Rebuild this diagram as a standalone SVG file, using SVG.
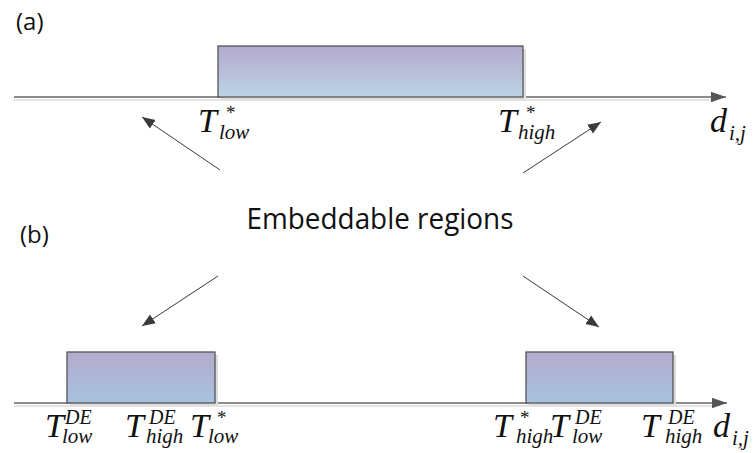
<svg xmlns="http://www.w3.org/2000/svg" width="755" height="453" viewBox="0 0 755 453">
<defs>
<linearGradient id="g1" x1="0" y1="0" x2="0" y2="1">
<stop offset="0" stop-color="#B4A9CC"/>
<stop offset="1" stop-color="#BCD4E6"/>
</linearGradient>
<linearGradient id="g2" x1="0" y1="0" x2="0" y2="1">
<stop offset="0" stop-color="#B4AACC"/>
<stop offset="1" stop-color="#A6C3E0"/>
</linearGradient>
<marker id="ah" viewBox="0 0 10 10" refX="10" refY="5" markerWidth="13" markerHeight="13" markerUnits="userSpaceOnUse" orient="auto">
<path d="M0,1 L10,5 L0,9 Z" fill="#3a3a3a"/>
</marker>
<marker id="axh" viewBox="0 0 10 10" refX="10" refY="5" markerWidth="15" markerHeight="15" markerUnits="userSpaceOnUse" orient="auto">
<path d="M0,1.5 L10,5 L0,8.5 Z" fill="#555"/>
</marker>
</defs>
<style>
.lbl{font-family:"Open Sans","Noto Sans",sans-serif;fill:#111}
.m{font-family:"Liberation Serif","Times New Roman",serif;font-style:italic;fill:#111}
.big{font-size:34px}
.sub{font-size:21px}
.sup{font-size:20px}
.ast{font-size:19px;font-style:normal}
.rect{stroke:#555;stroke-width:1.3}
.shadow{fill:#ddd}
.axis{stroke:#666;stroke-width:1.5;fill:none}
.axs{stroke:#e4e4e4;stroke-width:2;fill:none}
.arr{stroke:#3a3a3a;stroke-width:1;fill:none}
</style>

<g id="labels">
<text class="lbl" x="16" y="30" font-size="24">(a)</text>
<text class="lbl" x="20" y="243" font-size="24">(b)</text>
<text class="lbl" x="380" y="229" font-size="29" text-anchor="middle" textLength="267" lengthAdjust="spacingAndGlyphs">Embeddable regions</text>
</g>

<g id="axis-a">
<line class="axs" x1="14" y1="100" x2="714" y2="100"/>
<line class="axis" x1="14" y1="97" x2="726" y2="97" marker-end="url(#axh)"/>
</g>
<g id="region-a">
<rect class="shadow" x="221" y="49" width="305" height="51"/>
<rect class="rect" x="218" y="46" width="305" height="51" fill="url(#g1)"/>
</g>

<g id="axis-b">
<line class="axs" x1="14" y1="406" x2="714" y2="406"/>
<line class="axis" x1="14" y1="403" x2="727" y2="403" marker-end="url(#axh)"/>
</g>
<g id="region-b1">
<rect class="shadow" x="70" y="355" width="148" height="51"/>
<rect class="rect" x="67" y="352" width="148" height="51" fill="url(#g2)"/>
</g>
<g id="region-b2">
<rect class="shadow" x="529" y="355" width="147" height="51"/>
<rect class="rect" x="526" y="352" width="147" height="51" fill="url(#g2)"/>
</g>

<g id="connectors">
<line class="arr" x1="220" y1="170" x2="142" y2="117" marker-end="url(#ah)"/>
<line class="arr" x1="523" y1="173" x2="601" y2="122" marker-end="url(#ah)"/>
<line class="arr" x1="218" y1="276" x2="142" y2="326" marker-end="url(#ah)"/>
<line class="arr" x1="523" y1="276" x2="599" y2="327" marker-end="url(#ah)"/>
</g>

<g id="math-a">
<text class="m big" x="198" y="132">T</text>
<text class="m ast" x="226" y="119">*</text>
<text class="m sub" x="219" y="139">low</text>

<text class="m big" x="498" y="132">T</text>
<text class="m ast" x="526" y="119">*</text>
<text class="m sub" x="518" y="139">high</text>

<text class="m big" x="710" y="132">d</text>
<text class="m sub" x="729" y="140">i,j</text>
</g>

<g id="math-b">
<text class="m big" x="45" y="437">T</text>
<text class="m sup" x="65" y="424">DE</text>
<text class="m sub" x="62" y="443">low</text>

<text class="m big" x="125" y="437">T</text>
<text class="m sup" x="149" y="424">DE</text>
<text class="m sub" x="146" y="443">high</text>

<text class="m big" x="190" y="437">T</text>
<text class="m ast" x="217" y="424">*</text>
<text class="m sub" x="208" y="443">low</text>

<text class="m big" x="493" y="437">T</text>
<text class="m ast" x="520" y="424">*</text>
<text class="m sub" x="516" y="443">high</text>

<text class="m big" x="550" y="437">T</text>
<text class="m sup" x="575" y="424">DE</text>
<text class="m sub" x="572" y="443">low</text>

<text class="m big" x="641" y="437">T</text>
<text class="m sup" x="668" y="424">DE</text>
<text class="m sub" x="665" y="443">high</text>

<text class="m big" x="713" y="437">d</text>
<text class="m sub" x="732" y="445">i,j</text>
</g>
</svg>
